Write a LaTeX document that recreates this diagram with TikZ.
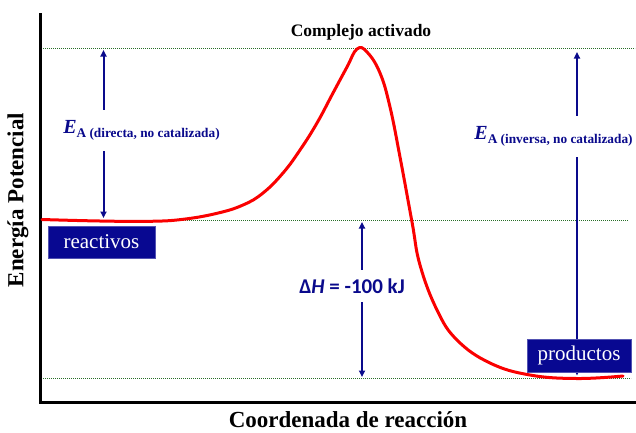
\documentclass[tikz,border=0pt]{standalone}
\usepackage{fontspec}
\setmainfont{Liberation Serif}
\newfontfamily\calib{Carlito}
\usetikzlibrary{arrows.meta}
\definecolor{navy}{RGB}{10,10,140}
\definecolor{boxblue}{RGB}{8,8,145}
\definecolor{dotgreen}{RGB}{40,110,40}
\definecolor{curvered}{RGB}{250,0,0}
\tikzset{
  guide/.style={dotgreen, line width=0.9pt, dash pattern=on 0.9pt off 1.1pt},
  axisline/.style={black, line width=3pt},
  energy/.style={curvered, line width=3pt, line cap=round, line join=round},
  dimarrow/.style={navy, line width=2pt, {Triangle[length=6.5pt,width=6pt]}-{Triangle[length=6.5pt,width=6pt]}},
  statebox/.style={fill=boxblue, draw=boxblue!70!white, line width=0.6pt, text=white, inner sep=0pt,
    font=\fontsize{21}{21}\selectfont},
  eatext/.style={fill=white, text=navy, inner xsep=3pt},
  axislabel/.style={font=\fontsize{23}{23}\selectfont\bfseries},
}
\newcommand{\ealabel}[1]{{\fontsize{20}{20}\selectfont\bfseries\itshape E}{\fontsize{13.3}{14}\selectfont\bfseries\raisebox{-4pt}{A (#1, no catalizada)}}}
\begin{document}
\begin{tikzpicture}[x=1pt,y=-1pt]
\useasboundingbox (0,0) rectangle (636,432);
% guide lines
\coordinate (g1a) at (43,48);  \coordinate (g1b) at (635,48);
\coordinate (g2a) at (43,220); \coordinate (g2b) at (628,220);
\coordinate (g3a) at (43,378); \coordinate (g3b) at (631,378);
\draw[guide] (g1a) -- (g1b);
\draw[guide] (g2a) -- (g2b);
\draw[guide] (g3a) -- (g3b);
% axes
\coordinate (ytop) at (40,13);
\coordinate (origin) at (40,402);
\coordinate (xend) at (636,402);
\draw[axisline] (ytop) -- (origin) -- (xend);
% energy curve
\draw[energy] plot[smooth, tension=0.7] coordinates {
 (42,219.5) (100,221) (150,221.3) (183,219.3) (217,213.3) (243,205) (263,193)
 (283,173) (300,150) (317,123) (333,93) (347,67) (357,49) (367,52) (380,73)
 (390,107) (400,157) (412,222) (420,265) (437,310) (457,340) (490,363)
 (530,375) (577,378.5) (623,376)};
% arrows
\coordinate (aLt) at (103.5,50);  \coordinate (aLb) at (103.5,218);
\coordinate (aMt) at (362,222);   \coordinate (aMb) at (362,377);
\coordinate (aRt) at (577,52);    \coordinate (aRb) at (577,375.5);
\draw[dimarrow] (aLt) -- (aLb);
\draw[dimarrow] (aMt) -- (aMb);
\draw[dimarrow] (aRt) -- (aRb);
% labels
\node[anchor=base, font=\fontsize{17.5}{18}\selectfont\bfseries] (cplx) at (361,36) {Complejo activado};
\node[eatext, minimum height=41pt] (eaL) at (141.5,130) {\ealabel{directa}};
\node[eatext, minimum height=41pt] (eaR) at (553.5,136) {\ealabel{inversa}};
\node[fill=white, text=navy, minimum height=32pt, inner xsep=6pt,
  font=\calib\fontsize{21}{21}\selectfont\bfseries] (dH) at (352,286) {Δ\textit{H} = -100 kJ};
% state boxes
\node[statebox, minimum width=107pt, minimum height=32pt] (react) at (101.5,242) {reactivos};
\node[statebox, minimum width=104pt, minimum height=33pt] (prod) at (579,355.5) {productos};
% axis labels
\node[axislabel, rotate=90] (ylab) at (18,200) {Energía Potencial};
\node[axislabel, anchor=base, inner sep=0pt] (xlab) at (348,427) {Coordenada de reacción};
\end{tikzpicture}
\end{document}
